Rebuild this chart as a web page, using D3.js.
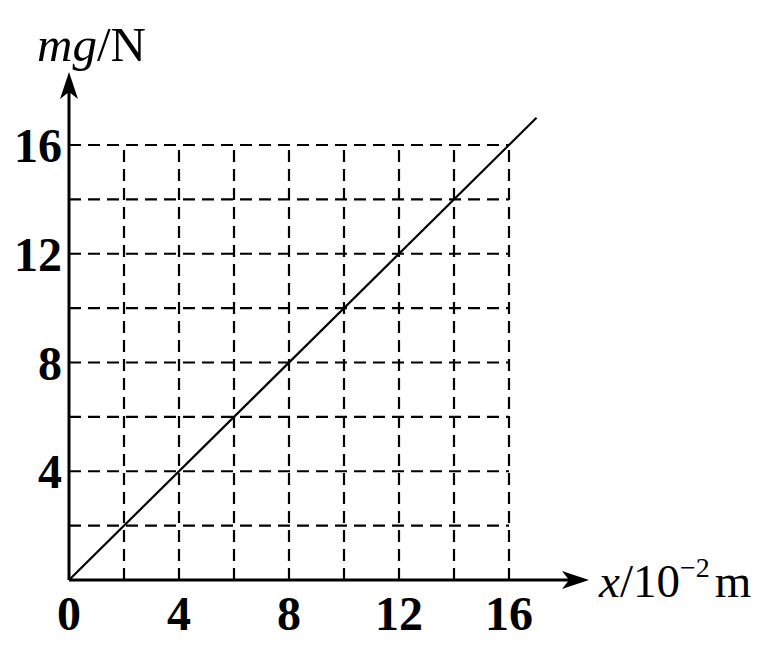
<!DOCTYPE html>
<html><head><meta charset="utf-8">
<script src="https://cdn.jsdelivr.net/npm/d3@7"></script>
<style>body{margin:0;background:#fff;}</style>
</head><body>
<svg id="chart" width="780" height="652"></svg>
<script>
const xTicks = [0, 4, 8, 12, 16];
const yTicks = [4, 8, 12, 16];
const gridValues = [2, 4, 6, 8, 10, 12, 14, 16];
const lineX = [0, 17];
const lineY = [0, 17];

const svg = d3.select("#chart");
const x = d3.scaleLinear().domain([0, 16]).range([69, 509]);
const y = d3.scaleLinear().domain([0, 16]).range([580, 145]);
const serif = "'Liberation Serif','DejaVu Serif',serif";

// dashed grid
const g = svg.append("g").attr("stroke", "#000").attr("stroke-width", 2.2)
  .attr("stroke-dasharray", "12,7").attr("fill", "none");
gridValues.forEach(v => {
  g.append("line").attr("x1", x(v)).attr("x2", x(v)).attr("y1", y(0)).attr("y2", y(16));
  g.append("line").attr("x1", x(0)).attr("x2", x(16)).attr("y1", y(v)).attr("y2", y(v));
});

// data line
svg.append("line")
  .attr("x1", x(lineX[0])).attr("y1", y(lineY[0]))
  .attr("x2", x(lineX[1])).attr("y2", y(lineY[1]))
  .attr("stroke", "#000").attr("stroke-width", 2.2);

// axes
svg.append("line").attr("x1", x(0)).attr("y1", y(0)).attr("x2", 580).attr("y2", y(0))
  .attr("stroke", "#000").attr("stroke-width", 3);
svg.append("line").attr("x1", x(0)).attr("y1", y(0)).attr("x2", x(0)).attr("y2", 82)
  .attr("stroke", "#000").attr("stroke-width", 3);
// arrowheads
svg.append("path").attr("d", `M589,${y(0)} L562,${y(0)-9} L569,${y(0)} L562,${y(0)+9} Z`).attr("fill", "#000");
svg.append("path").attr("d", `M${x(0)},72 L${x(0)-9},99 L${x(0)},92 L${x(0)+9},99 Z`).attr("fill", "#000");

// tick labels
svg.selectAll(".xt").data(xTicks).enter().append("text")
  .attr("x", d => x(d)).attr("y", 630).attr("text-anchor", "middle")
  .attr("font-family", serif).attr("font-weight", "bold").attr("font-size", 48)
  .text(d => d);
svg.selectAll(".yt").data(yTicks).enter().append("text")
  .attr("x", 62).attr("y", d => y(d) + 17).attr("text-anchor", "end")
  .attr("font-family", serif).attr("font-weight", "bold").attr("font-size", 48)
  .text(d => d);

// axis titles
const yt = svg.append("text").attr("x", 37).attr("y", 61).attr("font-family", serif).attr("font-size", 49);
yt.append("tspan").attr("font-style", "italic").text("mg");
yt.append("tspan").text("/N");

const xt = svg.append("text").attr("x", 599).attr("y", 597).attr("font-family", serif).attr("font-size", 47);
xt.append("tspan").attr("font-style", "italic").text("x");
xt.append("tspan").text("/10");
xt.append("tspan").attr("font-size", 28).attr("dy", -20).text("−2");
xt.append("tspan").attr("dy", 20).attr("dx", 5).text("m");
</script>
</body></html>
